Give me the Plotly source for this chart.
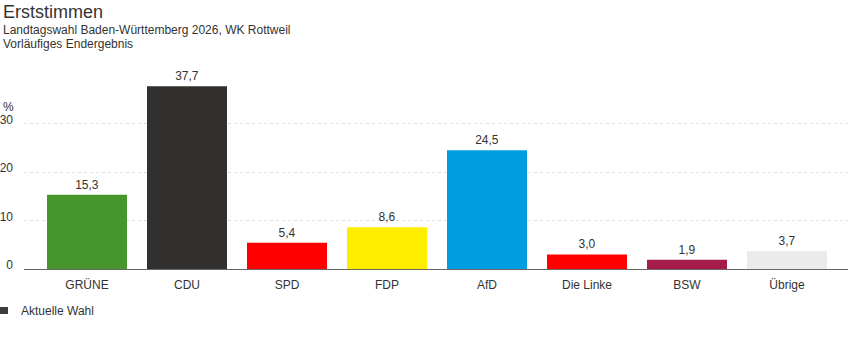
import plotly.graph_objects as go

parties = ["GRÜNE", "CDU", "SPD", "FDP", "AfD", "Die Linke", "BSW", "Übrige"]
values = [15.3, 37.7, 5.4, 8.6, 24.5, 3.0, 1.9, 3.7]
colors = ["#46962b", "#32302e", "#ff0000", "#ffed00", "#009ee0", "#ff0000", "#a51c4a", "#ebebeb"]
y_ticks = [0, 10, 20, 30]

title = "Erststimmen"
subtitle1 = "Landtagswahl Baden-Württemberg 2026, WK Rottweil"
subtitle2 = "Vorläufiges Endergebnis"
legend_name = "Aktuelle Wahl"
legend_color = "#3c3c3c"

W, H = 849, 352
ML, MR, MT, MB = 24, 1, 75, 83
FONT = "Liberation Sans, Arial, sans-serif"
TXT = "#333333"

def py(p):
    return (H - MB - p) / (H - MT - MB)

def px(p):
    return (p - ML) / (W - ML - MR)

fig = go.Figure()
fig.add_trace(go.Bar(
    x=parties, y=values, marker=dict(color=colors, line=dict(width=0)),
    width=0.8, text=values, texttemplate="%{y:.1f}", textposition="outside",
    textfont=dict(size=12, color=TXT, family=FONT), cliponaxis=False,
    showlegend=False, hoverinfo="skip", name=legend_name,
))

fig.update_layout(
    width=W, height=H, margin=dict(l=ML, r=MR, t=MT, b=MB),
    paper_bgcolor="white", plot_bgcolor="white",
    separators=",.",
    font=dict(family=FONT, size=12, color=TXT),
    showlegend=False,
    xaxis=dict(range=[-0.63, 7.61], showline=True, linecolor="#666666", linewidth=1,
               showgrid=False, ticks="", tickfont=dict(size=12, color=TXT),
               ticklabelstandoff=5),
    yaxis=dict(range=[0, 40], tickvals=y_ticks, showgrid=True, gridcolor="#dddddd",
               griddash="3px,3px", gridwidth=1, zeroline=False, showline=False,
               ticks="", tickfont=dict(size=12, color=TXT), ticklabelshift=-4,
               ticklabelstandoff=10),
    shapes=[
        dict(type="rect", xref="paper", yref="paper", x0=px(0), x1=px(8),
             y0=py(314), y1=py(307), fillcolor=legend_color, line=dict(width=0)),
    ],
    annotations=[
        dict(text=title, xref="paper", yref="paper", x=px(1), y=py(12), xanchor="left",
             yanchor="middle", showarrow=False, font=dict(size=18, color=TXT)),
        dict(text=subtitle1, xref="paper", yref="paper", x=px(1), y=py(30), xanchor="left",
             yanchor="middle", showarrow=False, font=dict(size=12, color=TXT)),
        dict(text=subtitle2, xref="paper", yref="paper", x=px(1), y=py(44), xanchor="left",
             yanchor="middle", showarrow=False, font=dict(size=12, color=TXT)),
        dict(text="%", xref="paper", yref="paper", x=px(16), y=py(107), xanchor="right",
             yanchor="middle", showarrow=False, font=dict(size=12, color=TXT)),
        dict(text=legend_name, xref="paper", yref="paper", x=px(19), y=py(311), xanchor="left",
             yanchor="middle", showarrow=False, font=dict(size=12, color=TXT)),
    ],
)

fig.write_html("out.html")
